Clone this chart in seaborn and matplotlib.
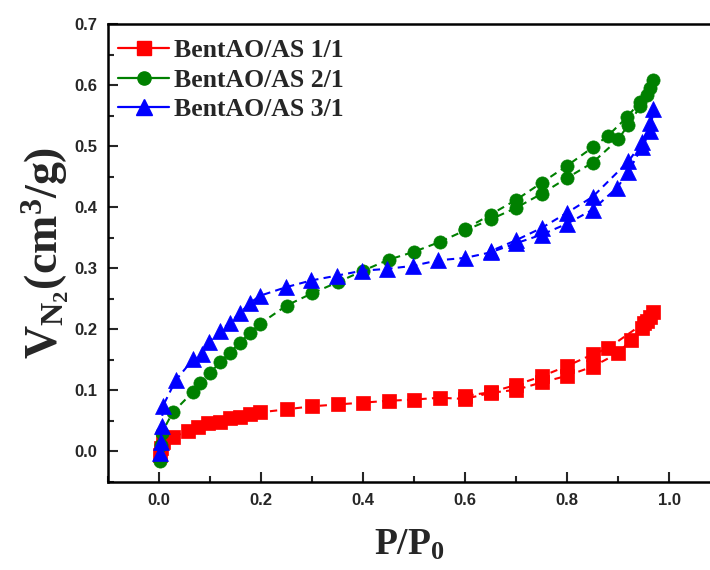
import matplotlib
matplotlib.use("Agg")
import matplotlib.pyplot as plt
from matplotlib.lines import Line2D
from matplotlib.ticker import MultipleLocator
import seaborn as sns
import pandas as pd

# N2 adsorption / desorption isotherms (adsorption branch then desorption branch)
p_11 = [0.001, 0.003, 0.008, 0.027, 0.057, 0.076, 0.096, 0.12, 0.139, 0.159, 0.178, 0.198,
        0.25, 0.30, 0.35, 0.40, 0.45, 0.50, 0.55, 0.60, 0.65, 0.70, 0.75, 0.80, 0.85, 0.90,
        0.925, 0.947, 0.957, 0.963, 0.969,
        0.95, 0.88, 0.85, 0.80, 0.75, 0.70, 0.65, 0.60]
v_11 = [-0.005, 0.005, 0.015, 0.024, 0.033, 0.040, 0.046, 0.049, 0.054, 0.057, 0.062, 0.064,
        0.069, 0.074, 0.077, 0.080, 0.083, 0.085, 0.088, 0.086, 0.096, 0.101, 0.113, 0.124,
        0.139, 0.161, 0.183, 0.203, 0.213, 0.221, 0.229,
        0.210, 0.169, 0.159, 0.140, 0.123, 0.109, 0.097, 0.091]

p_21 = [0.002, 0.003, 0.005, 0.027, 0.067, 0.08, 0.10, 0.12, 0.139, 0.159, 0.178, 0.198,
        0.25, 0.30, 0.35, 0.40, 0.45, 0.50, 0.55, 0.60, 0.65, 0.70, 0.75, 0.80, 0.85, 0.90,
        0.92, 0.943, 0.957, 0.969,
        0.963, 0.943, 0.918, 0.88, 0.85, 0.80, 0.75, 0.70, 0.65, 0.60]
v_21 = [-0.016, 0.010, 0.030, 0.064, 0.098, 0.112, 0.129, 0.146, 0.162, 0.178, 0.194, 0.209,
        0.239, 0.259, 0.277, 0.296, 0.314, 0.327, 0.343, 0.362, 0.380, 0.399, 0.422, 0.448,
        0.473, 0.511, 0.535, 0.565, 0.584, 0.609,
        0.596, 0.573, 0.548, 0.517, 0.498, 0.468, 0.440, 0.412, 0.388, 0.364]

p_31 = [0.002, 0.003, 0.005, 0.008, 0.033, 0.067, 0.084, 0.098, 0.12, 0.139, 0.159, 0.178,
        0.198, 0.249, 0.298, 0.349, 0.398, 0.447, 0.498, 0.547, 0.60, 0.65, 0.70, 0.75, 0.80,
        0.85, 0.898, 0.92, 0.947, 0.963, 0.969,
        0.963, 0.947, 0.92, 0.85, 0.80, 0.75, 0.70, 0.65]
v_31 = [-0.003, 0.015, 0.042, 0.075, 0.117, 0.151, 0.160, 0.180, 0.197, 0.211, 0.227, 0.243,
        0.255, 0.269, 0.280, 0.288, 0.296, 0.299, 0.304, 0.313, 0.317, 0.326, 0.341, 0.355,
        0.373, 0.396, 0.432, 0.458, 0.499, 0.524, 0.560,
        0.538, 0.506, 0.475, 0.417, 0.391, 0.366, 0.346, 0.328]

labels = ["BentAO/AS 1/1", "BentAO/AS 2/1", "BentAO/AS 3/1"]
colors = ["#ff0000", "#008000", "#0000ff"]
markers = ["s", "o", "^"]

sns.set_theme(style="ticks")
plt.rcParams["font.family"] = ["Liberation Sans", "DejaVu Sans"]
plt.rcParams["mathtext.fontset"] = "custom"
plt.rcParams["mathtext.rm"] = "Liberation Serif:bold"
plt.rcParams["mathtext.it"] = "Liberation Serif:bold"
plt.rcParams["mathtext.bf"] = "Liberation Serif:bold"

fig = plt.figure(figsize=(7.1, 5.7), dpi=100)
ax = fig.add_axes([108 / 710, 88 / 570, 602 / 710, 458 / 570])

series = [(p_11, v_11), (p_21, v_21), (p_31, v_31)]
for (p, v), lab, c, m in zip(series, labels, colors, markers):
    df = pd.DataFrame({"P": p, "V": v})
    sns.lineplot(data=df, x="P", y="V", sort=False, estimator=None, ax=ax,
                 color=c, linestyle=(0, (3.5, 2.5)), linewidth=1.5,
                 marker=m, markersize=9.5 if m != "^" else 11,
                 markeredgewidth=0.5, markeredgecolor=c)

ax.set_xlim(-0.1, 1.08)
ax.set_ylim(-0.05, 0.7)
ax.xaxis.set_major_locator(MultipleLocator(0.2))
ax.xaxis.set_minor_locator(MultipleLocator(0.1))
ax.yaxis.set_major_locator(MultipleLocator(0.1))
ax.yaxis.set_minor_locator(MultipleLocator(0.05))
ax.tick_params(which="major", direction="in", length=7, width=1.5,
               labelsize=12, pad=8, top=False, right=False)
ax.tick_params(which="minor", direction="in", length=4, width=1.5,
               top=False, right=False)
for lbl in ax.get_xticklabels() + ax.get_yticklabels():
    lbl.set_fontweight("bold")
for side in ["left", "bottom", "top"]:
    ax.spines[side].set_linewidth(1.8)
    ax.spines[side].set_color("black")
ax.spines["right"].set_visible(False)

ax.set_xlabel(r"P/P$_0$", fontsize=27, fontfamily="Liberation Serif",
              fontweight="bold", labelpad=14)
ax.set_ylabel(r"V$_{\mathrm{N_2}}$(cm$^3$/g)", fontsize=33,
              fontfamily="Liberation Serif", fontweight="bold", labelpad=2)

handles = [Line2D([], [], color=c, linewidth=1.6, marker=m,
                  markersize=9.5 if m != "^" else 11, markeredgecolor=c)
           for c, m in zip(colors, markers)]
ax.legend(handles, labels, loc="upper left", bbox_to_anchor=(-0.022, 1.017),
          frameon=False, handlelength=2.0, handletextpad=0.2, labelspacing=0.25,
          prop={"family": "Liberation Serif", "weight": "bold", "size": 18.5})

fig.savefig("out.png", dpi=100)
